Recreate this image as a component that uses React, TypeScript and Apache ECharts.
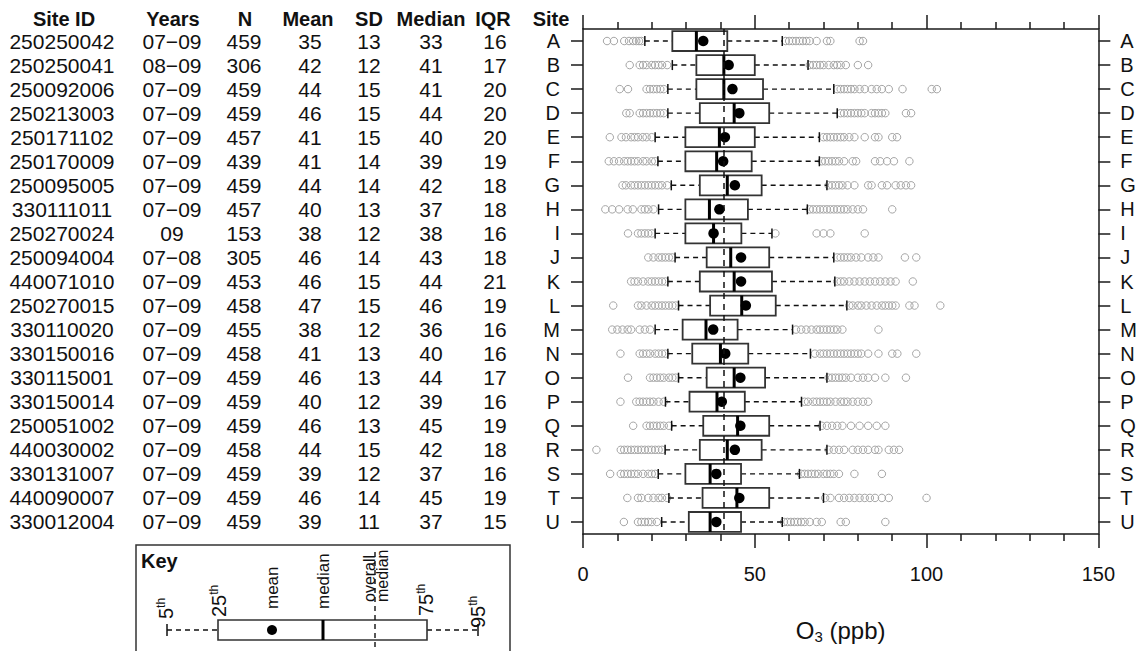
import React, { useEffect, useRef } from 'react';
import * as echarts from 'echarts';

const FONT = '"Liberation Sans", Arial, Helvetica, sans-serif';

const sites = ['A','B','C','D','E','F','G','H','I','J','K','L','M','N','O','P','Q','R','S','T','U'];
const siteIds = ['250250042','250250041','250092006','250213003','250171102','250170009','250095005','330111011','250270024','250094004','440071010','250270015','330110020','330150016','330115001','330150014','250051002','440030002','330131007','440090007','330012004'];
const years = ['07−09','08−09','07−09','07−09','07−09','07−09','07−09','07−09','09','07−08','07−09','07−09','07−09','07−09','07−09','07−09','07−09','07−09','07−09','07−09','07−09'];
const nObs = [459,306,459,459,457,439,459,457,153,305,453,458,455,458,459,459,459,458,459,459,459];
const meanTable = [35,42,44,46,41,41,44,40,38,46,46,47,38,41,46,40,46,44,39,46,39];
const sdTable = [13,12,15,15,15,14,14,13,12,14,15,15,12,13,13,12,13,15,12,14,11];
const medianTable = [33,41,41,44,40,39,42,37,38,43,44,46,36,40,44,39,45,42,37,45,37];
const iqrTable = [16,17,20,20,20,19,18,18,16,18,21,19,16,16,17,16,19,18,16,19,15];
const headers = ['Site ID','Years','N','Mean','SD','Median','IQR','Site'];

// box statistics (ppb): 5th, 25th, median, 75th, 95th percentile and mean
const p5 = [18,26,24.7,24.7,21,21.8,25.7,22,21,26.8,24.7,27.8,21,24.7,27.8,24,25.8,23.9,21.9,25,22.9];
const q1 = [26,33,33,34,29.8,29.8,34,29.8,29.8,36,34,37,29,31.8,36,31,35,34,29.8,34.8,30.8];
const median = [33,41,41,44,39.7,38.9,42,36.8,38,43,44,46.2,35.8,40,44,39,45,42,37,44.8,37];
const q3 = [42,50,52.4,54.2,50,49.1,52,48,46.1,54.2,55,56.1,45,48.1,53,47.1,54.2,52,46,54.2,46];
const p95 = [58,65.5,73,74,68.8,68.8,71,65.3,55,73,73.3,76.8,61,66.2,71,63.6,69,71,63,70,58];
const means = [35,42.4,43.5,45.5,41.3,40.8,44.2,39.7,38,46,46,47.4,37.9,41.4,45.8,40.4,45.8,44.2,38.8,45.5,38.8];
const OVERALL_MEDIAN = 41;

const outliers: number[][] = [
  [7,9,12,13.4,14.6,15.5,16.3,17,59,60,61,62,63,64,65,66,68,71,72,80.5,81.5],
  [13.6,16.5,17.5,18.5,20,21,22,23,24.5,66,67,68,69,70,71.5,73,74,75,76.5,80,83],
  [10.7,13.1,18.5,19.5,20.5,21.5,22.5,23.5,74,75,76,77,78,79,80.5,82,84,85.5,87,89,93,101.5,103],
  [12.6,13.6,16.5,17.5,18.5,19.5,20.5,21.5,22.5,23.5,75,76,77,78,79,80,81,82,84,85,86,87,88,94,95.5],
  [7.8,11.2,12.5,14,15,16,17.4,18.5,20,70,71,72,73,74,75,76,77.5,79,82,85,86,90,91.4],
  [7.5,9,10.5,12,13,14,15,16,17.5,18.5,20,21,69.5,70.5,71.5,72.5,73.5,74.5,76,78.5,79.5,85,86.5,88.5,90.5,95],
  [11.5,12.5,14,15,16,17,18,19,20,21,22,23,24.5,71.5,72.5,73.5,74.5,75.5,77,79,83,84,87,88.5,91,92.5,94,95.5],
  [6.5,8.5,10.5,13,14.5,17,18,19,20.5,66,67,68,69,70,71,72,73,74,75,76,77,78.5,80,81.5,90],
  [13.1,16,17,18,19,20,56,68,70,72,82],
  [19,20.5,22,23,24,25,26,74,75,76,77,78,79.5,81,83,84.5,86,93.7,97],
  [14,15,16,17.5,19,20,21,22,23,24,74,75,76,77.5,79,80.5,82,83.5,85,86.5,88,89.5,91,96],
  [8.8,16,17,18.5,20,21,22,23,24,25,26,27,77.5,78.5,80,81,82.5,84,85.5,87,88,89,90,91,95,96.5,104],
  [8.5,10,11.5,13,14,16.5,18,19.5,62,63.5,65,66.5,68,69,70,71,72,73,74,75.5,86],
  [10.9,16.5,17.5,18.5,19.5,21,22,23,24,67.5,69,70,71,72,73,74,75,76,77,78,79,80,81,83,86,90,91.5,97],
  [13.1,19.5,20.5,21.5,22.5,23.5,25,26,27,71.5,72.5,73.5,74.5,75.5,76.5,78,80,81.5,83,85,88,94],
  [10.9,15.5,16.5,17.5,18.5,19.5,20.5,22,23.5,64.5,65.5,67,68,69,70,71,72,73.5,75,76,77,78.5,80,81.5,83],
  [14.6,18.5,19.5,20.5,21.5,22.5,23.5,25,69.5,71,72.5,74,75.5,78,80.5,83,85.5,88],
  [3.9,11,12,13,14,15,16,17,18,19,20,21,22,23,71.5,73,74.5,76,78.5,80,81.5,83,85,86,89,90.5,92],
  [7.9,11,12,13,14,15,16,17.5,19,20,21,63.5,64.5,65.5,66.5,67.5,68.5,70,71,72,73,74.5,79,87],
  [12.9,16,17,19,20.5,22,23,24.5,70.5,72,74.5,76,77.5,79,80.5,82,83.5,85,87,89,100],
  [11.9,16,17,18,19,20,21.5,58.5,59.5,60.5,61.5,62.5,63.5,64.5,66,68,69.5,75,76.5,88],
];

const X_MIN = 0;
const X_MAX = 150;
const X_INTERVAL = 50;

export default function App() {
  const ref = useRef<HTMLDivElement>(null);

  useEffect(() => {
    const chart = echarts.init(ref.current as HTMLDivElement, null, { renderer: 'svg' });
    const axisColor = '#1a1a1a';

    const boxData = sites.map((_, i) => [i, p5[i], q1[i], median[i], q3[i], p95[i]]);
    const outData: number[][] = [];
    outliers.forEach((arr, i) => arr.forEach((v) => outData.push([v, i])));
    const meanData = means.map((m, i) => [m, i]);

    const xBase = (pos: string, showLabel: boolean) => ({
      type: 'value',
      position: pos,
      min: X_MIN,
      max: X_MAX,
      interval: X_INTERVAL,
      axisLine: { show: true, onZero: false, lineStyle: { color: axisColor, width: 1.5 } },
      axisTick: { show: true, length: 14, lineStyle: { color: axisColor, width: 1.5 } },
      minorTick: { show: true, splitNumber: 5, length: 7, lineStyle: { color: axisColor, width: 1.5 } },
      splitLine: { show: false },
      axisLabel: { show: showLabel, fontSize: 20, color: '#111', margin: 30, fontFamily: FONT },
    });

    const yBase = (pos: string, margin: number) => ({
      type: 'category',
      position: pos,
      data: sites,
      inverse: true,
      axisLine: { show: true, onZero: false, lineStyle: { color: axisColor, width: 1.5 } },
      axisTick: { show: true, alignWithLabel: true, interval: 0, length: 12, lineStyle: { color: axisColor, width: 1.5 } },
      axisLabel: { fontSize: 20, color: '#111', margin, interval: 0, fontFamily: FONT },
      splitLine: { show: false },
    });

    chart.setOption({
      animation: false,
      backgroundColor: '#ffffff',
      textStyle: { fontFamily: FONT },
      grid: { left: 583, right: 39, top: 29, bottom: 117, containLabel: false },
      xAxis: [
        {
          ...xBase('bottom', true),
          name: '{o|O}{s|3}{o| (ppb)}',
          nameLocation: 'middle',
          nameGap: 82,
          nameTextStyle: {
            rich: {
              o: { fontSize: 24, lineHeight: 28, color: '#111', fontFamily: FONT },
              s: { fontSize: 15, lineHeight: 14, verticalAlign: 'bottom', color: '#111', fontFamily: FONT },
            },
          },
        },
        xBase('top', false),
      ],
      yAxis: [yBase('left', 23), yBase('right', 22)],
      series: [
        {
          type: 'scatter',
          name: 'outliers',
          xAxisIndex: 0,
          yAxisIndex: 0,
          data: outData,
          symbol: 'circle',
          symbolSize: 7.5,
          itemStyle: { color: 'rgba(0,0,0,0)', borderColor: '#a6a6a6', borderWidth: 1, opacity: 1 },
          silent: true,
          markLine: {
            silent: true,
            symbol: 'none',
            label: { show: false },
            lineStyle: { type: [6, 5], color: '#111', width: 1.5 },
            data: [{ xAxis: OVERALL_MEDIAN }],
          },
          z: 2,
        },
        {
          type: 'custom',
          name: 'boxes',
          xAxisIndex: 0,
          yAxisIndex: 0,
          data: boxData,
          encode: { x: [1, 2, 3, 4, 5], y: 0 },
          z: 3,
          renderItem: (params: any, api: any) => {
            const idx = api.value(0);
            const y = api.coord([0, idx])[1];
            const band = api.size([0, 1])[1];
            const h = band * 0.83;
            const px = (d: number) => api.coord([api.value(d), idx])[0];
            const xa = px(1), xb = px(2), xm = px(3), xc = px(4), xd = px(5);
            const dash = { stroke: '#111', lineWidth: 1.4, lineDash: [5, 4] };
            const solid = { stroke: '#111', lineWidth: 1.5 };
            return {
              type: 'group',
              children: [
                { type: 'line', shape: { x1: xa, y1: y, x2: xb, y2: y }, style: dash },
                { type: 'line', shape: { x1: xc, y1: y, x2: xd, y2: y }, style: dash },
                { type: 'line', shape: { x1: xa, y1: y - 5, x2: xa, y2: y + 5 }, style: solid },
                { type: 'line', shape: { x1: xd, y1: y - 5, x2: xd, y2: y + 5 }, style: solid },
                { type: 'rect', shape: { x: xb, y: y - h / 2, width: xc - xb, height: h }, style: { fill: 'none', stroke: '#333', lineWidth: 1.8 } },
                { type: 'line', shape: { x1: xm, y1: y - h / 2, x2: xm, y2: y + h / 2 }, style: { stroke: '#000', lineWidth: 3 } },
              ],
            };
          },
        },
        {
          type: 'scatter',
          name: 'mean',
          xAxisIndex: 0,
          yAxisIndex: 0,
          data: meanData,
          symbol: 'circle',
          symbolSize: 10.5,
          itemStyle: { color: '#000', opacity: 1 },
          silent: true,
          z: 4,
        },
      ],
    });

    // table and key, positioned on the rows through the chart's own category scale
    const rowY = sites.map((_, i) => chart.convertToPixel({ yAxisIndex: 0 }, i) as number);
    const headerX = [64, 173, 245, 308, 369, 431, 493, 551];
    const colX = [62, 172, 244, 310, 369, 431, 495];
    const txt = (text: string, x: number, y: number, opts: any = {}) => ({
      type: 'text',
      x,
      y,
      silent: true,
      style: {
        text,
        align: 'center',
        verticalAlign: 'middle',
        textAlign: 'center',
        textVerticalAlign: 'middle',
        fontSize: 21,
        fontFamily: FONT,
        fill: '#111',
        ...opts,
      },
    });

    const elements: any[] = [];
    headers.forEach((h, k) => elements.push(txt(h, headerX[k], 19, { fontWeight: 'bold', fontSize: 20 })));
    const columns: (string | number)[][] = [siteIds, years, nObs, meanTable, sdTable, medianTable, iqrTable];
    columns.forEach((col, k) => {
      col.forEach((v, i) => elements.push(txt(String(v), colX[k], rowY[i])));
    });

    // Key
    const ky = 630;
    const kDash = { stroke: '#111', lineWidth: 1.4, lineDash: [5, 4] };
    const kSolid = { stroke: '#111', lineWidth: 1.5 };
    elements.push({ type: 'rect', silent: true, shape: { x: 136, y: 545, width: 374, height: 130 }, style: { fill: 'none', stroke: '#333', lineWidth: 1.5 } });
    elements.push(txt('Key', 141, 561, { fontWeight: 'bold', fontSize: 20, align: 'left', textAlign: 'left' }));
    elements.push({ type: 'line', silent: true, shape: { x1: 167, y1: ky, x2: 218, y2: ky }, style: kDash });
    elements.push({ type: 'line', silent: true, shape: { x1: 427, y1: ky, x2: 478, y2: ky }, style: kDash });
    elements.push({ type: 'line', silent: true, shape: { x1: 167, y1: ky - 6, x2: 167, y2: ky + 6 }, style: kSolid });
    elements.push({ type: 'line', silent: true, shape: { x1: 478, y1: ky - 6, x2: 478, y2: ky + 6 }, style: kSolid });
    elements.push({ type: 'rect', silent: true, shape: { x: 218, y: ky - 10, width: 209, height: 20 }, style: { fill: 'none', stroke: '#333', lineWidth: 1.6 } });
    elements.push({ type: 'circle', silent: true, shape: { cx: 272, cy: ky, r: 5 }, style: { fill: '#000' } });
    elements.push({ type: 'line', silent: true, shape: { x1: 323, y1: ky - 10, x2: 323, y2: ky + 10 }, style: { stroke: '#000', lineWidth: 3 } });
    elements.push({ type: 'line', silent: true, shape: { x1: 375, y1: 552, x2: 375, y2: 651 }, style: { stroke: '#111', lineWidth: 1.4, lineDash: [5, 4] } });

    const rich = {
      n: { fontSize: 20, lineHeight: 22, fill: '#111', fontFamily: FONT },
      s: { fontSize: 12, lineHeight: 13, verticalAlign: 'top', fill: '#111', fontFamily: FONT },
    };
    const rot = (text: string, x: number, y: number, opts: any = {}) => ({
      type: 'text',
      x,
      y,
      rotation: Math.PI / 2,
      silent: true,
      style: {
        text,
        align: 'left',
        verticalAlign: 'middle',
        textAlign: 'left',
        textVerticalAlign: 'middle',
        fontSize: 17,
        fontFamily: FONT,
        fill: '#111',
        ...opts,
      },
    });
    elements.push(rot('{n|5}{s|th}', 166, 619, { rich }));
    elements.push(rot('{n|25}{s|th}', 219, 617, { rich }));
    elements.push(rot('mean', 272, 609));
    elements.push(rot('median', 323, 609));
    elements.push(rot('overall\nmedian', 376, 602, { fontSize: 16, lineHeight: 13 }));
    elements.push(rot('{n|75}{s|th}', 426, 616, { rich }));
    elements.push(rot('{n|95}{s|th}', 478, 628, { rich }));

    chart.setOption({ graphic: { elements } });

    return () => chart.dispose();
  }, []);

  return <div ref={ref} style={{ position: 'fixed', left: 0, top: 0, width: 1140, height: 651 }} />;
}
